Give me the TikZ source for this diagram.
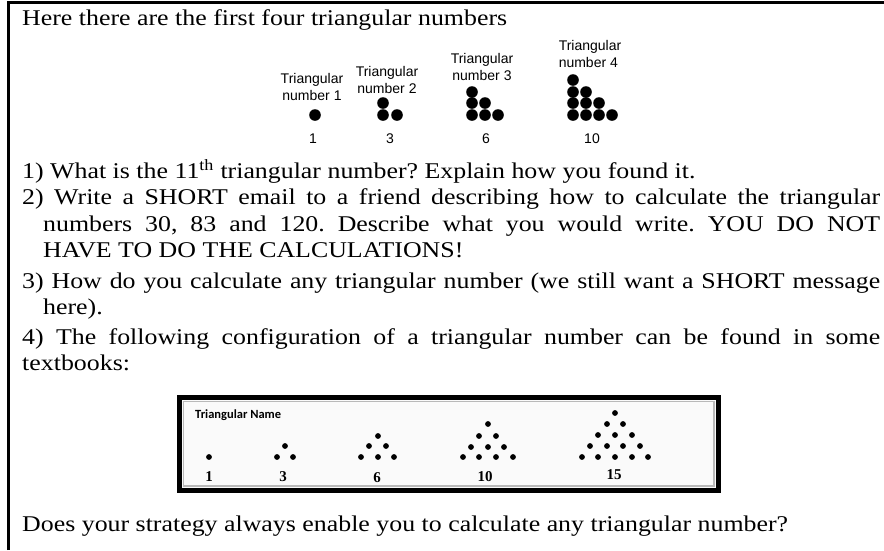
\documentclass[tikz,border=0pt]{standalone}
\usepackage{fontspec}
\setmainfont{Liberation Serif}[FakeStretch=1.15]
\newfontfamily\labelfont{Liberation Sans}
\newfontfamily\boxnamefont{Carlito}
\newfontfamily\boxnumfont{Liberation Serif}
\frenchspacing
\tikzset{
  body/.style={anchor=base west, inner sep=0pt, font=\fontsize{22.5}{26}\selectfont\frenchspacing},
  toplabel/.style={align=center, inner sep=0pt, font=\labelfont\fontsize{14}{17}\selectfont},
  topnum/.style={anchor=base, inner sep=0pt, font=\labelfont\fontsize{14}{17}\selectfont},
  boxname/.style={anchor=west, inner sep=0pt, font=\boxnamefont\bfseries\fontsize{12.5}{14}\selectfont},
  boxnum/.style={anchor=base, inner sep=0pt, font=\boxnumfont\bfseries\fontsize{15}{17}\selectfont},
  frameline/.style={line width=2.5pt},
  boxframe/.style={line width=5pt},
}
\begin{document}
\begin{tikzpicture}[x=1pt,y=-1pt]
\useasboundingbox (0,0) rectangle (884,550);
% outer frame (top and left only)
\draw[frameline] (8.5,550) -- (8.5,2.5) -- (884,2.5);
% text lines
\node[body] (l0) at (22,25) {Here there are the first four triangular numbers};
\node[body] (l1) at (22,178) {1) What is the 11\textsuperscript{th} triangular number? Explain how you found it.};
\node[body] (l2) at (22,204.5) {\hbox to 858pt{2) Write a SHORT email to a friend describing how to calculate the triangular}};
\node[body] (l3) at (43,231) {\hbox to 837pt{numbers 30, 83 and 120. Describe what you would write. YOU DO NOT}};
\node[body] (l4) at (43,257.5) {HAVE TO DO THE CALCULATIONS!};
\node[body] (l5) at (22,288) {\hbox to 858pt{3) How do you calculate any triangular number (we still want a SHORT message}};
\node[body] (l6) at (43,314.5) {here).};
\node[body] (l7) at (22,344) {\hbox to 858pt{4) The following configuration of a triangular number can be found in some}};
\node[body] (l8) at (22,370.5) {textbooks:};
\node[body] (l9) at (22,531) {Does your strategy always enable you to calculate any triangular number?};
% top figure
\node[toplabel] (lab1) at (312,87) {Triangular\\number 1};
\node[toplabel] (lab2) at (387,79.5) {Triangular\\number 2};
\node[toplabel] (lab3) at (482,66.5) {Triangular\\number 3};
\node[toplabel, align=left] (lab4) at (590,53.5) {Triangular\\number 4};
\foreach \px/\py in {315/115,
  383/103, 383/115, 397/115,
  472/92, 472/103, 485/103, 472/115, 485/115, 498/115,
  573/80, 573/92, 586/92, 573/103, 586/103, 599/103, 573/115, 586/115, 599/115, 612/115}
  \fill (\px,\py) circle (5.8);
\node[topnum] (n1) at (313,143) {1};
\node[topnum] (n3) at (390,143) {3};
\node[topnum] (n6) at (486,143) {6};
\node[topnum] (n10) at (592,143) {10};
% lower figure
\fill[black!2] (179.5,397.5) rectangle (718,490);
\draw[boxframe] (179.5,397.5) rectangle (718,490);
\draw[gray!55, line width=1.5pt] (183.5,401.5) rectangle (714,486);
\node[boxname] (bname) at (195,415) {Triangular Name};
\foreach \px/\py in {209/457,
  285/446, 277/457, 293/457,
  378/436, 369/446, 386/446, 361/457, 378/457, 394/457,
  488/424, 479/436, 496/436, 471/447, 488/447, 504/447, 463/457, 479/457, 496/457, 513/457,
  615/413, 607/424, 623/424, 598/435, 615/435, 632/435, 590/446, 607/446, 623/446, 640/446,
  582/457, 598/457, 615/457, 632/457, 648/457}
  \fill (\px,\py) circle (2.9);
\node[boxnum] (b1) at (209,481) {1};
\node[boxnum] (b3) at (283,481) {3};
\node[boxnum] (b6) at (377,482) {6};
\node[boxnum] (b10) at (485,481) {10};
\node[boxnum] (b15) at (614,479) {15};
\end{tikzpicture}
\end{document}
